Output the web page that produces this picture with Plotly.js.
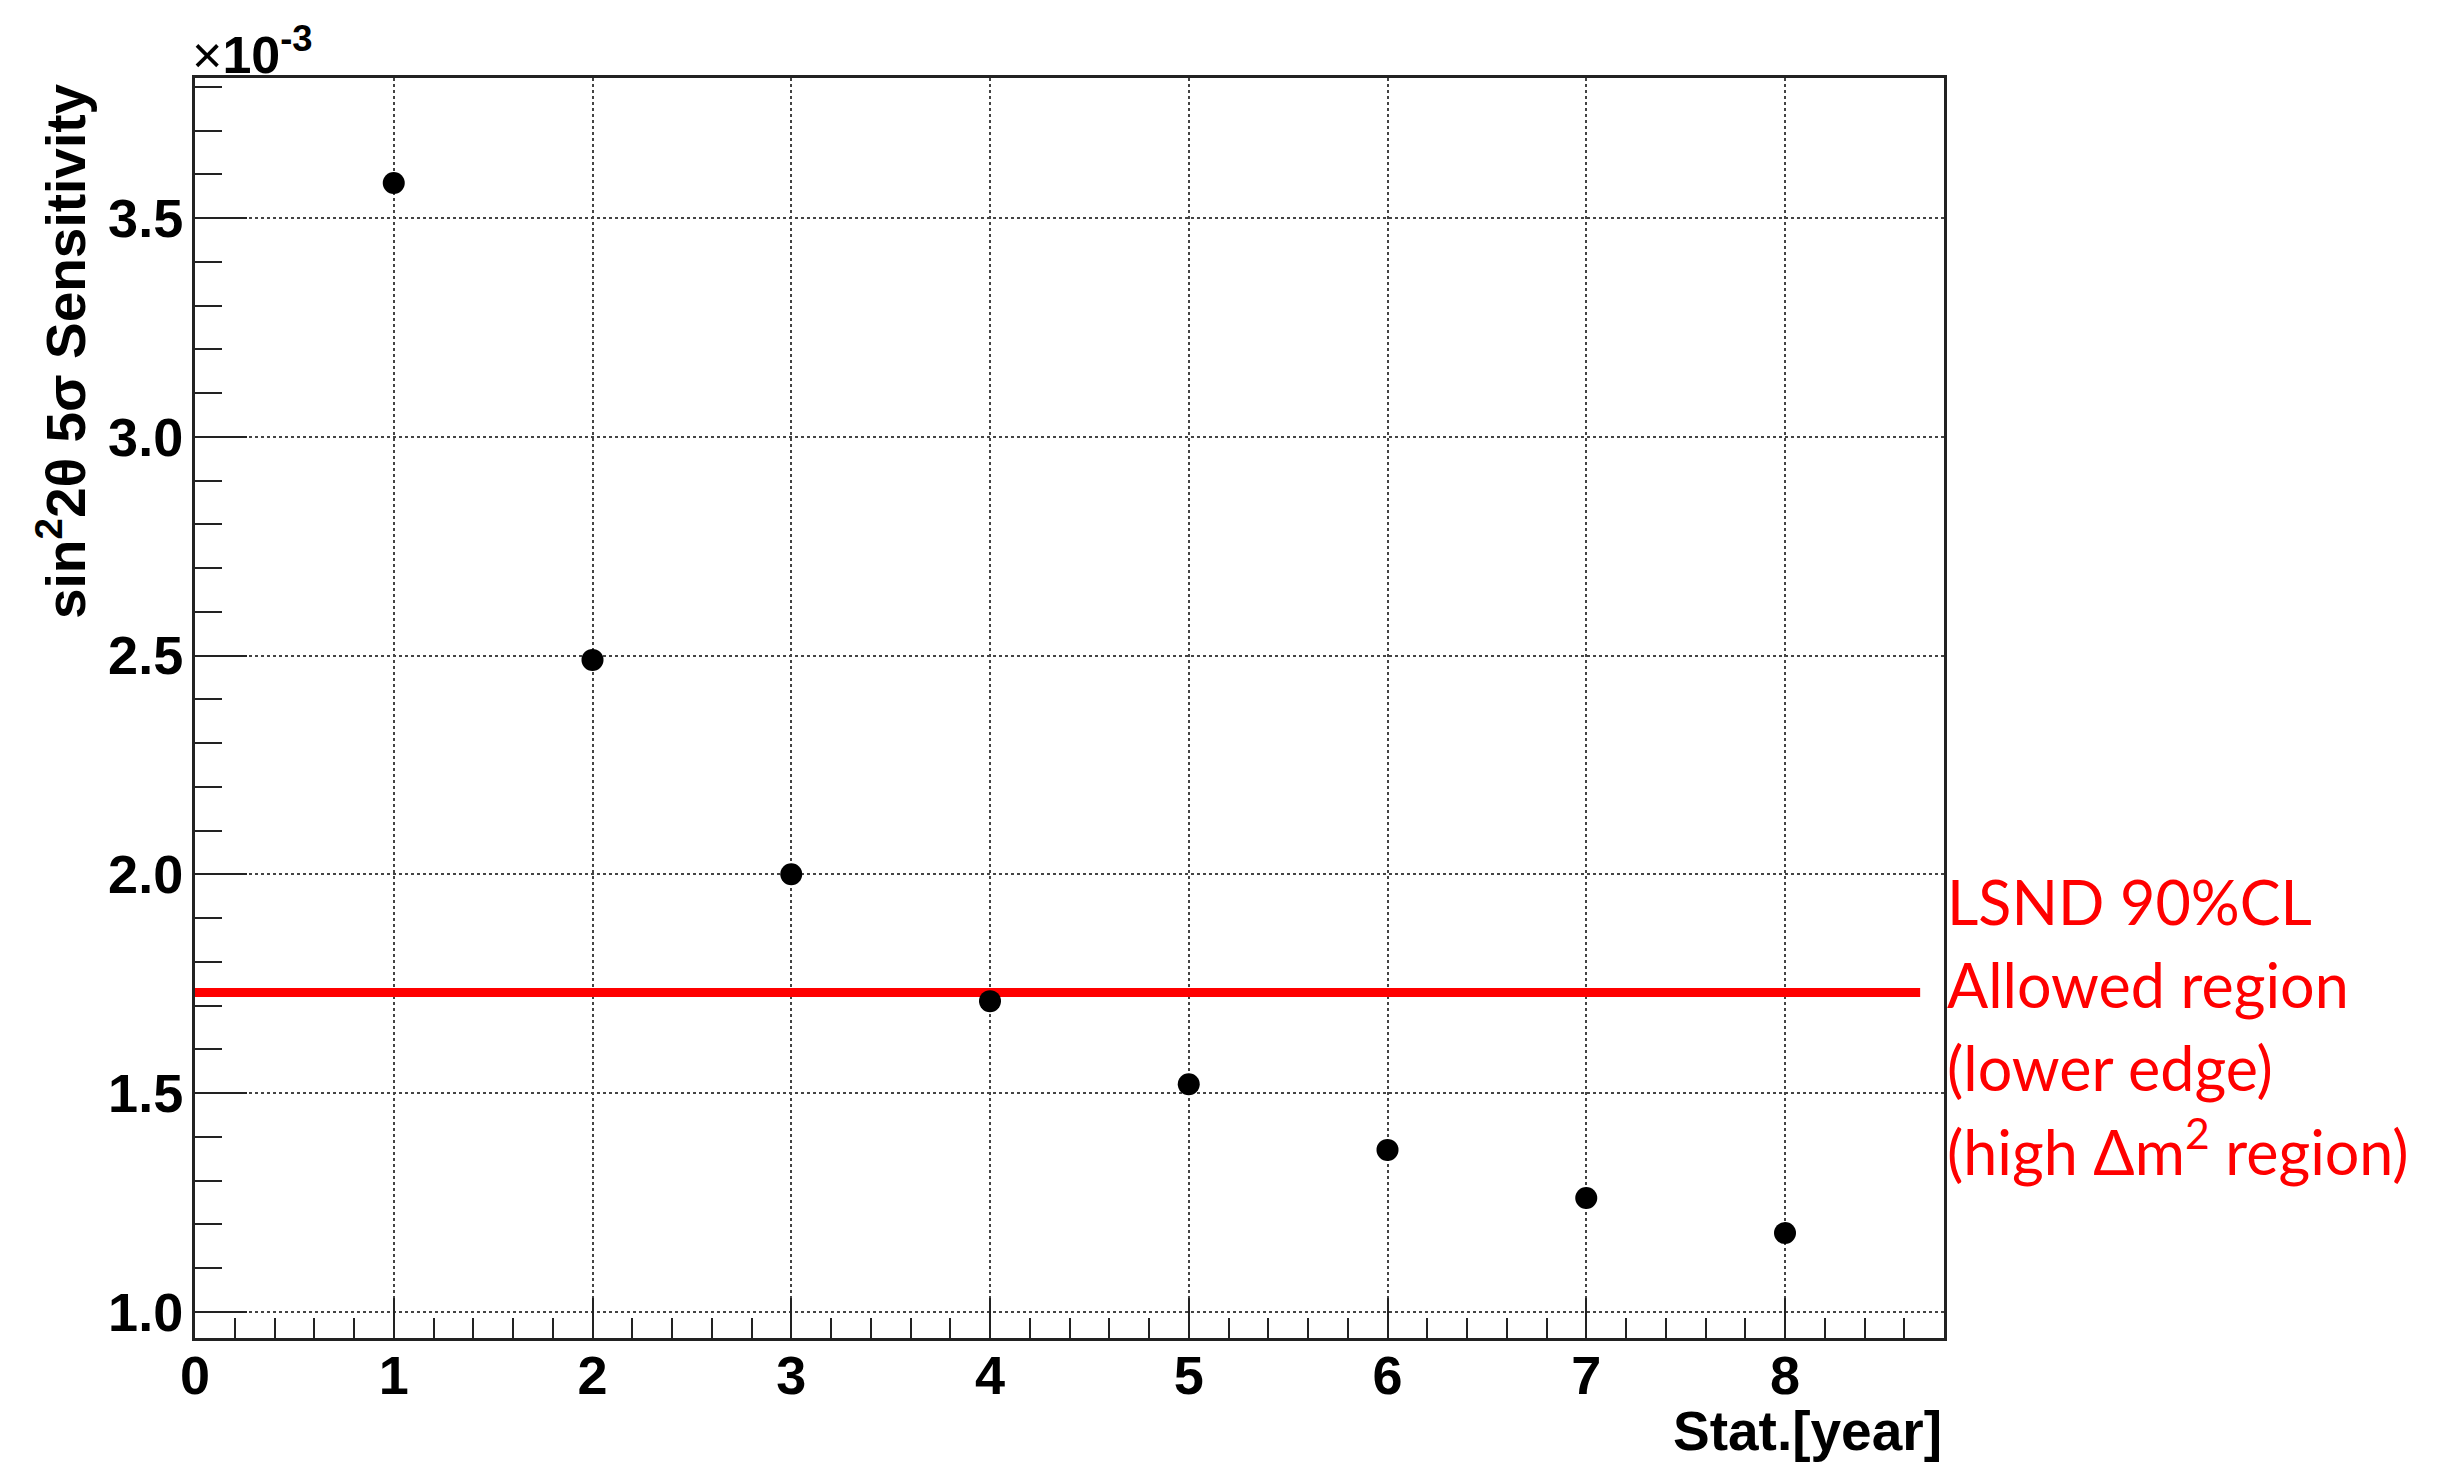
<!DOCTYPE html>
<html>
<head>
<meta charset="utf-8">
<script src="https://cdn.plot.ly/plotly-3.0.1.min.js"></script>
<style>html,body{margin:0;padding:0;background:#fff;}#chart{width:2445px;height:1463px;}</style>
</head>
<body>
<div id="chart"></div>
<script>
// ---- data ----
const years = [1, 2, 3, 4, 5, 6, 7, 8];
const sensitivity = [3.58, 2.49, 2.00, 1.71, 1.52, 1.37, 1.26, 1.18]; // x 10^-3
const lsndX = [0, 8.68];
const lsndY = [1.73, 1.73];
const lsndLines = ["LSND 90%CL", "Allowed region", "(lower edge)", "(high \u0394m<sup>2</sup> region)"];
const xTitle = "Stat.[year]";
const yTitle = "sin<sup>2</sup>2\u03b8 5\u03c3 Sensitivity";
const expLabel = "<span style='font-weight:normal'>\u00d7</span>10<sup>-3</sup>";

const L = 195, R = 1944, T = 78, B = 1338;
const W = 2445, H = 1463;
const pw = R - L, ph = B - T;
const px2x = p => (p - L) / pw;
const py2y = p => (B - p) / ph;

const axisFont = {family: "Liberation Sans, Arial, sans-serif", size: 54, color: "#000", weight: "bold"};
const redFont = {family: "Lato, sans-serif", size: 61, color: "#ff0000"};

const traces = [
  {x: lsndX, y: lsndY, mode: "lines", line: {color: "#ff0000", width: 9}, hoverinfo: "skip", cliponaxis: false},
  {x: years, y: sensitivity, mode: "markers", marker: {color: "#000", size: 22, symbol: "circle"}}
];

const annotations = [
  {xref: "paper", yref: "paper", x: px2x(62), y: py2y(351), xanchor: "center", yanchor: "middle",
   text: yTitle, textangle: -90, showarrow: false, font: Object.assign({}, axisFont, {size: 55})},
  {xref: "paper", yref: "paper", x: 1, y: py2y(1431), xanchor: "right", yanchor: "middle",
   text: xTitle, showarrow: false, font: Object.assign({}, axisFont, {size: 55})},
  {xref: "paper", yref: "paper", x: px2x(190), y: py2y(86), xanchor: "left", yanchor: "bottom",
   text: expLabel, showarrow: false, font: Object.assign({}, axisFont, {size: 52})}
];
const lineCenters = [901, 984, 1067, 1147];
lsndLines.forEach((t, i) => {
  annotations.push({xref: "paper", yref: "paper", x: px2x(1945), y: py2y(lineCenters[i]), xanchor: "left", yanchor: "middle",
    text: t, showarrow: false, font: redFont});
});

const layout = {
  width: W, height: H,
  margin: {l: L, r: W - R, t: T, b: H - B, pad: 0},
  paper_bgcolor: "#fff", plot_bgcolor: "#fff",
  showlegend: false,
  xaxis: {
    range: [0, 8.8], tick0: 0, dtick: 1, ticks: "inside", ticklen: 40, tickwidth: 2, tickcolor: "#222",
    showline: true, linecolor: "#222", linewidth: 3, mirror: true,
    showgrid: true, gridcolor: "#444", griddash: "dot", gridwidth: 2,
    zeroline: false, tickfont: axisFont, ticklabelstandoff: -12,
    minor: {dtick: 0.2, ticks: "inside", ticklen: 20, tickwidth: 2, tickcolor: "#222", showgrid: false}
  },
  yaxis: {
    range: [0.94, 3.82], tick0: 1.0, dtick: 0.5, tickformat: ".1f", ticks: "inside", ticklen: 52, tickwidth: 2, tickcolor: "#222",
    showline: true, linecolor: "#222", linewidth: 3, mirror: true,
    showgrid: true, gridcolor: "#444", griddash: "dot", gridwidth: 2,
    zeroline: false, tickfont: axisFont, ticklabelstandoff: -2,
    minor: {dtick: 0.1, ticks: "inside", ticklen: 27, tickwidth: 2, tickcolor: "#222", showgrid: false}
  },
  annotations: annotations
};

Plotly.newPlot("chart", traces, layout, {staticPlot: true, displayModeBar: false});
</script>
</body>
</html>
